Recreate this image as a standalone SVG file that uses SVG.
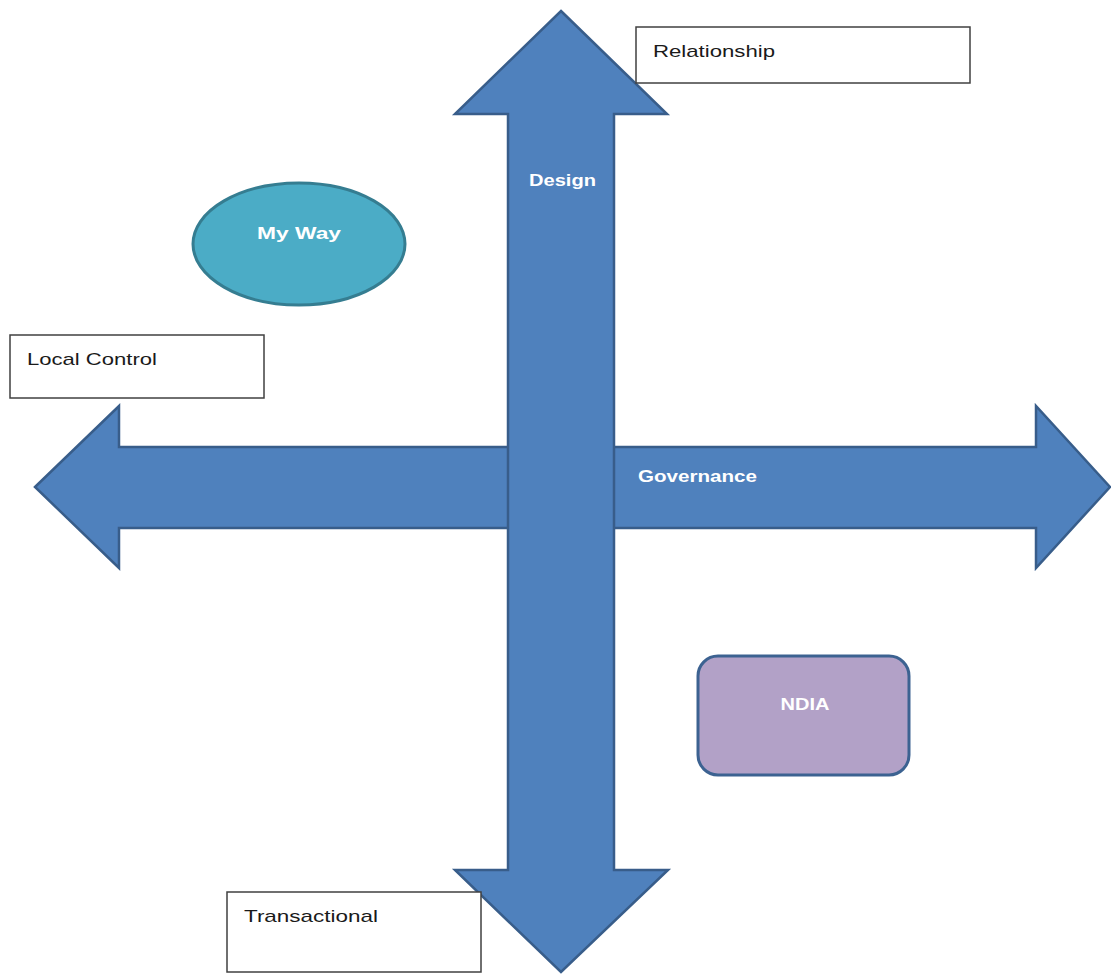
<svg xmlns="http://www.w3.org/2000/svg" width="1111" height="974" viewBox="0 0 1111 974">
<style>
.arrow{fill:#4F81BD;stroke:#385D8A;stroke-width:2.5;stroke-linejoin:miter}
.box{fill:#FFFFFF;stroke:#404040;stroke-width:1.5}
.lbl{font-family:"Liberation Sans",Arial,sans-serif;font-size:17px;fill:#1a1a1a}
.wlbl{font-family:"Liberation Sans",Arial,sans-serif;font-size:17px;font-weight:bold;fill:#FFFFFF}
</style>
<rect width="1111" height="974" fill="#FFFFFF"/>
<g id="connectors">
<g id="horizontal-arrow">
<path class="arrow" d="M35,487 L119,406 L119,447 L1036,447 L1036,406 L1110,487 L1036,568 L1036,528 L119,528 L119,568 Z"/>
<text class="wlbl" x="638" y="482" textLength="119" lengthAdjust="spacingAndGlyphs">Governance</text>
</g>
<g id="vertical-arrow">
<path class="arrow" d="M561,11 L667,114 L614,114 L614,870 L668,870 L561,972 L455,870 L508,870 L508,114 L455,114 Z"/>
<text class="wlbl" x="529" y="186" textLength="67" lengthAdjust="spacingAndGlyphs">Design</text>
</g>
</g>
<g id="relationship">
<rect class="box" x="636" y="27" width="334" height="56"/>
<text class="lbl" x="653" y="57" textLength="122" lengthAdjust="spacingAndGlyphs">Relationship</text>
</g>
<g id="local-control">
<rect class="box" x="10" y="335" width="254" height="63"/>
<text class="lbl" x="27" y="365" textLength="130" lengthAdjust="spacingAndGlyphs">Local Control</text>
</g>
<g id="transactional">
<rect class="box" x="227" y="892" width="254" height="80"/>
<text class="lbl" x="244" y="922" textLength="134" lengthAdjust="spacingAndGlyphs">Transactional</text>
</g>
<g id="my-way">
<ellipse cx="299" cy="244" rx="106" ry="61" fill="#4BACC6" stroke="#357D91" stroke-width="3"/>
<text class="wlbl" x="299" y="239" text-anchor="middle" textLength="84" lengthAdjust="spacingAndGlyphs">My Way</text>
</g>
<g id="ndia">
<rect x="698" y="656" width="211" height="119" rx="20" ry="20" fill="#B2A1C7" stroke="#3C6291" stroke-width="3"/>
<text class="wlbl" x="805" y="710" text-anchor="middle" textLength="49" lengthAdjust="spacingAndGlyphs">NDIA</text>
</g>
</svg>
